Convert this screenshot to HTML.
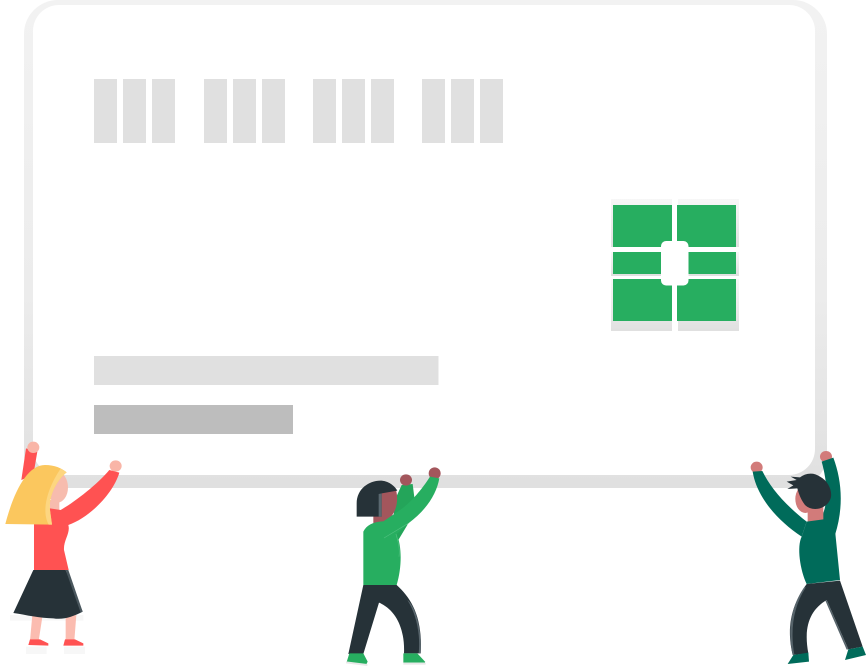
<!DOCTYPE html>
<html>
<head>
<meta charset="utf-8">
<style>
html,body{margin:0;padding:0;background:#fff;width:866px;height:668px;overflow:hidden}
svg{display:block}
</style>
</head>
<body>
<svg width="866" height="668" viewBox="0 0 866 668" xmlns="http://www.w3.org/2000/svg">
<defs>
<linearGradient id="card" x1="0" y1="0" x2="0" y2="1">
<stop offset="0" stop-color="#f2f2f2"/>
<stop offset="0.6" stop-color="#ececec"/>
<stop offset="1" stop-color="#e0e0e0"/>
</linearGradient>
<linearGradient id="chip" x1="0" y1="0" x2="0" y2="1">
<stop offset="0" stop-color="#f7f7f7"/>
<stop offset="1" stop-color="#e0e0e0"/>
</linearGradient>
</defs>
<rect width="866" height="668" fill="#fff"/>
<rect x="24" y="0" width="803" height="488" rx="34" fill="url(#card)"/>
<rect x="33" y="5" width="782" height="470" rx="26" fill="#fff"/>
<g fill="#e0e0e0">
<rect x="94" y="79" width="23" height="64"/><rect x="123" y="79" width="23" height="64"/><rect x="152" y="79" width="23" height="64"/>
<rect x="204" y="79" width="23" height="64"/><rect x="233" y="79" width="23" height="64"/><rect x="262" y="79" width="23" height="64"/>
<rect x="313" y="79" width="23" height="64"/><rect x="342" y="79" width="23" height="64"/><rect x="371" y="79" width="23" height="64"/>
<rect x="422" y="79" width="23" height="64"/><rect x="451" y="79" width="23" height="64"/><rect x="480" y="79" width="23" height="64"/>
</g>
<rect x="94" y="356" width="344.500" height="29" fill="#e0e0e0"/>
<rect x="94" y="405" width="199" height="29" fill="#bdbdbd"/>
<g fill="url(#chip)">
<rect x="611" y="199" width="61" height="48"/><rect x="678" y="199" width="61" height="48"/>
<rect x="611" y="252" width="61" height="24"/><rect x="678" y="252" width="61" height="24"/>
<rect x="611" y="279" width="61" height="52"/><rect x="678" y="279" width="61" height="52"/>
</g>
<g fill="#27ae60">
<rect x="613" y="205" width="59" height="42"/><rect x="677" y="205" width="59" height="42"/>
<rect x="613" y="252" width="59" height="22"/><rect x="677" y="252" width="59" height="22"/>
<rect x="613" y="279" width="59" height="42"/><rect x="677" y="279" width="59" height="42"/>
</g>
<rect x="661" y="241" width="27.500" height="44.500" rx="5" fill="#fff"/>

<!-- Person 1 -->
<g transform="translate(0,430) scale(0.33333)">
<path d="M78,650H140V672H78ZM192,650H255V672H192ZM30,555L250,555V572H30Z" fill="#f7f7f7"/>
<path d="M97,555L128,555L116,632H90Z" fill="#fbbcb0"/>
<path d="M197,560L229,555L223,632H197Z" fill="#fbbcb0"/>
<path d="M85,645L90,628H120L145,640V647Z" fill="#ff5252"/>
<path d="M190,647L195,628H225L250,640V647Z" fill="#ff5252"/>
<path d="M78,55L112,65L100,135L64,150Z" fill="#ff5252"/>
<ellipse cx="100" cy="52" rx="18" ry="17" fill="#f9b5a7"/>
<ellipse cx="347" cy="108" rx="18" ry="17" fill="#f9b5a7"/>
<ellipse cx="172" cy="172" rx="32" ry="46" fill="#f7bcae"/>
<path d="M150,210H178V245H150Z" fill="#f7bcae"/>
<path d="M102,420V282L150,235L182,240C225,215 290,165 328,120L358,128C340,190 270,262 205,285C212,310 190,330 192,360L206,420Z" fill="#ff5252"/>
<path d="M16,282C40,190 80,105 135,105C165,105 185,115 200,127C170,150 145,200 150,240L156,284Z" fill="#fbc75e"/>
<path d="M182,116C188,119 194,122 200,127C170,150 145,200 150,240L156,284H146C122,240 145,170 182,116Z" fill="#fdd680"/>
<path d="M100,420H197L248,545C220,560 190,570 160,565C120,565 80,555 40,549Z" fill="#263238"/>
<path d="M197,420H205L248,545L242,548Z" fill="#4a575e"/>
</g>

<!-- Person 2 -->
<g transform="translate(330,460) scale(0.33333)">
<path d="M215,75L248,72L254,120L232,195L205,240L195,235L190,130Z" fill="#24a55a"/>
<ellipse cx="228" cy="60" rx="18" ry="17" fill="#a3565c"/>
<ellipse cx="314" cy="40" rx="18" ry="18" fill="#a3565c"/>
<path d="M150,100L198,90C206,120 200,150 182,172V190H130V168Z" fill="#a3565c"/>
<path d="M80,170V130C80,85 120,60 155,62C180,65 195,80 202,92L155,100V170Z" fill="#263238"/>
<path d="M146,102L155,100L155,170H146Z" fill="#5a6870"/>
<path d="M100,375V215C110,195 130,185 160,184L210,150C240,130 275,90 300,50L328,55C320,100 290,150 235,190L200,222C216,260 216,320 200,375Z" fill="#27ae60"/>
<path d="M162,234L235,190M198,222C206,250 210,270 207,290" fill="none" stroke="#4fc07e" stroke-width="2"/>
<path d="M100,375H200C250,420 278,480 272,580H222C225,510 200,450 147,428L100,582H55Z" fill="#263238"/>
<path d="M232,420C258,460 272,520 266,580H272C276,510 258,440 232,420Z" fill="#59666d"/>
<path d="M50,606L108,615L113,605L100,580H58Z" fill="#27ae60"/>
<path d="M220,580H262L285,605V608H220Z" fill="#27ae60"/>
<path d="M48,604L112,612V618L48,610ZM220,608H287V614H220Z" fill="#e8e8e8"/>
</g>

<!-- Person 3 -->
<g transform="translate(740,440) scale(0.33333)">
<ellipse cx="50" cy="82" rx="18" ry="17" fill="#d27b7a"/>
<ellipse cx="258" cy="50" rx="18" ry="17" fill="#d27b7a"/>
<path d="M38,95L67,93C90,140 130,190 200,245L185,290C110,240 50,170 38,95Z" fill="#006b5a"/>
<path d="M245,65L280,53C305,120 312,200 285,285L240,240C270,190 260,120 245,65Z" fill="#006b5a"/>
<ellipse cx="196" cy="177" rx="30" ry="42" fill="#d27b7a"/>
<path d="M203,200H250V250H203Z" fill="#d27b7a"/>
<path d="M200,245L250,238L285,270L300,420L200,432C180,390 170,320 185,290Z" fill="#006b5a"/>
<path d="M200,432L300,422L368,620L325,628L260,480C210,510 190,560 205,640L158,645C140,570 150,500 200,432Z" fill="#263238"/>
<path d="M158,645C142,570 152,500 194,440L197,443C160,500 150,570 163,644Z" fill="#56636a"/>
<path d="M260,480L325,628L320,629L256,482Z" fill="#56636a"/>
<path d="M160,645L205,638L207,665L143,672Z" fill="#006b5a"/>
<path d="M325,628L368,620L378,645L315,660Z" fill="#006b5a"/>
<path d="M140,125L170,120L152,110L180,112C195,100 220,95 240,110C268,125 280,160 270,180C255,210 215,215 195,195C180,175 175,155 172,145L142,147L160,136Z" fill="#263238"/>
</g>
</svg>
</body>
</html>
